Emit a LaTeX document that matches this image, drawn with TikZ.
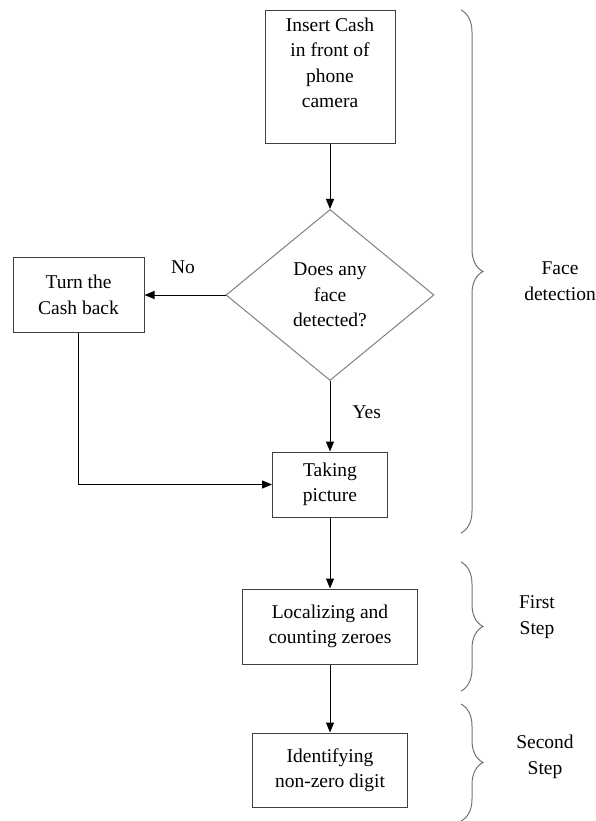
\documentclass[tikz,border=0pt]{standalone}
\usepackage{fontspec}
\setmainfont{Liberation Serif}
\newfontfamily\flowfont{Liberation Serif}
\usetikzlibrary{positioning, shapes.geometric, arrows.meta, decorations.pathreplacing}

\tikzset{
  box/.style={draw=black!75, line width=1pt, rectangle, align=center, inner sep=0pt},
  decide/.style={draw=black!50, line width=1pt, diamond, align=center, inner sep=0pt,
    minimum width=208pt, minimum height=171pt},
  flow/.style={->, line width=1pt, >={Triangle[length=10pt,width=8pt]}},
  stagebrace/.style={draw=black!55, line width=1pt, decorate, decoration={brace, amplitude=22pt}},
  tag/.style={align=center, inner sep=0pt}
}

\begin{document}
\begin{tikzpicture}[x=1pt, y=-1pt, on grid, font=\flowfont\fontsize{19.5}{25.5}\selectfont]
   \useasboundingbox (0,0) rectangle (595,821);
   \node[box, minimum width=130pt, minimum height=133pt] (insert) at (330,77.5)
     {Insert Cash\\in front of\\phone\\camera\\[4pt]};
   \node[decide] (face) [below=217.5pt of insert] {Does any\\face\\detected?};
   \node[box, minimum width=131pt, minimum height=75pt] (turn) [left=251.5pt of face]
     {Turn the\\Cash back};
   \node[box, minimum width=115pt, minimum height=65pt] (take) [below=189.5pt of face]
     {Taking\\picture};
   \node[box, minimum width=175pt, minimum height=75pt] (local) [below=142pt of take]
     {Localizing and\\counting zeroes};
   \node[box, minimum width=155pt, minimum height=74pt] (ident) [below=143.5pt of local]
     {Identifying\\non-zero digit};
    \path[flow]
    (insert) edge (face)
    (face) edge node[tag, above=21pt, xshift=-2pt] {No} (turn)
    (face) edge node[tag, right=22pt, yshift=4pt] {Yes} (take)
    (take) edge (local)
    (local) edge (ident);
   \draw[flow] (turn.south) |- (take.west);
   % stages
   \coordinate (f1) at (461,10);  \coordinate (f2) at (461,533);
   \coordinate (s1) at (461,562); \coordinate (s2) at (461,691);
   \coordinate (t1) at (461,704); \coordinate (t2) at (461,821);
   \draw[stagebrace] (f1) -- (f2);
   \draw[stagebrace] (s1) -- (s2);
   \draw[stagebrace] (t1) -- (t2);
   \node[tag] (facetag) at (560,281) {Face\\detection};
   \node[tag] (firsttag) at (537,617) {First\\Step};
   \node[tag] (secondtag) at (545,757) {Second\\Step};
\end{tikzpicture}
\end{document}
